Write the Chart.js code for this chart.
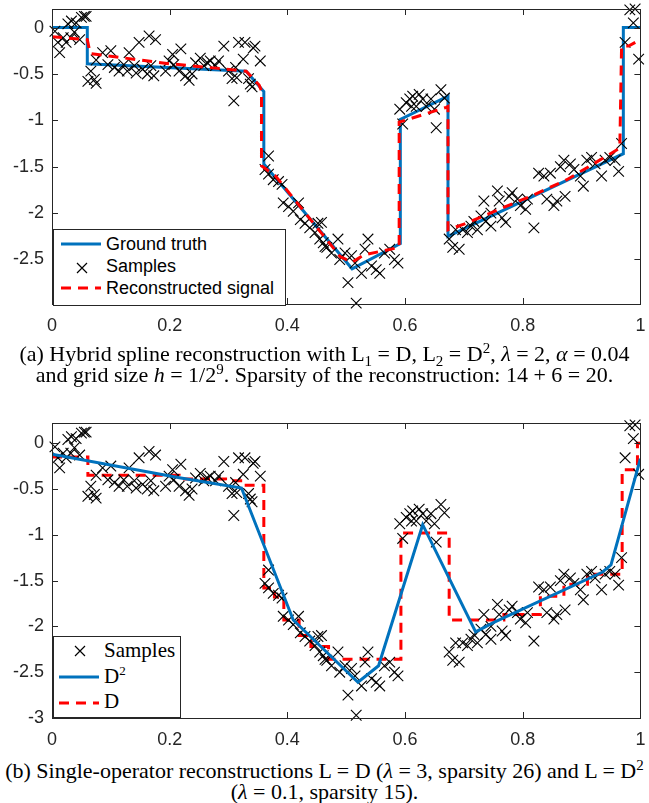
<!DOCTYPE html>
<html>
<head>
<meta charset="utf-8">
<script src="https://cdn.jsdelivr.net/npm/chart.js@4.4.1/dist/chart.umd.min.js"></script>
<style>
  body { margin: 0; background: #fff; width: 649px; height: 803px; position: relative; overflow: hidden; }
  .box { position: absolute; left: 0; width: 649px; }
  .legend { position: absolute; background: #fff; border: 1px solid #262626; color: #000; }
  .legend svg { position: absolute; }
  .legend span { position: absolute; white-space: nowrap; }
  .caption { position: absolute; left: 0; width: 649px; text-align: center; font-family: "Liberation Serif", "Times New Roman", serif; font-size: 22px; line-height: 21px; color: #000; white-space: nowrap; }
  .caption sub, .caption sup { font-size: 15px; line-height: 0; }
  i { font-style: italic; }
</style>
</head>
<body>
<div class="box" style="top:0;height:340px"><canvas id="chartA"></canvas></div>
<div class="box" style="top:400px;height:355px"><canvas id="chartB"></canvas></div>

<div class="legend" style="left:53px;top:229px;width:231px;height:75px;font-family:'Liberation Sans',Arial,sans-serif;font-size:18px">
  <svg style="left:7px;top:11px" width="40" height="6"><line x1="0" y1="3" x2="40" y2="3" stroke="#0072BD" stroke-width="3"/></svg>
  <span style="left:52px;top:4px">Ground truth</span>
  <svg style="left:22px;top:32px" width="12" height="12"><path d="M1 1L11 11M11 1L1 11" stroke="#000" stroke-width="1.2"/></svg>
  <span style="left:52px;top:26px">Samples</span>
  <svg style="left:7px;top:55px" width="40" height="6"><line x1="0" y1="3" x2="40" y2="3" stroke="#FF0000" stroke-width="3" stroke-dasharray="10 7"/></svg>
  <span style="left:52px;top:48px">Reconstructed signal</span>
</div>

<div class="legend" style="left:53px;top:636px;width:126px;height:80px;font-family:'Liberation Serif','Times New Roman',serif;font-size:21px">
  <svg style="left:20px;top:8px" width="12" height="12"><path d="M1 1L11 11M11 1L1 11" stroke="#000" stroke-width="1.2"/></svg>
  <span style="left:50px;top:1px">Samples</span>
  <svg style="left:5px;top:37px" width="40" height="6"><line x1="0" y1="3" x2="40" y2="3" stroke="#0072BD" stroke-width="3"/></svg>
  <span style="left:50px;top:26px">D<sup style="font-size:13px">2</sup></span>
  <svg style="left:5px;top:63px" width="40" height="6"><line x1="0" y1="3" x2="40" y2="3" stroke="#FF0000" stroke-width="3" stroke-dasharray="10 7"/></svg>
  <span style="left:50px;top:52px">D</span>
</div>

<div class="caption" style="top:343px">(a) Hybrid spline reconstruction with L<sub>1</sub> = D, L<sub>2</sub> = D<sup>2</sup>, <i>λ</i> = 2, <i>α</i> = 0.04<br>and grid size <i>h</i> = 1/2<sup>9</sup>. Sparsity of the reconstruction: 14 + 6 = 20.</div>
<div class="caption" style="top:760px">(b) Single-operator reconstructions L = D (<i>λ</i> = 3, sparsity 26) and L = D<sup>2</sup><br>(<i>λ</i> = 0.1, sparsity 15).</div>

<script>
// noisy samples (same in both panels)
const sampleX = [0.005, 0.010, 0.013, 0.019, 0.024, 0.027, 0.032, 0.033, 0.038, 0.041, 0.047, 0.050, 0.055, 0.058,
  0.061, 0.066, 0.072, 0.075, 0.075, 0.086, 0.095, 0.100, 0.106, 0.114, 0.122, 0.128, 0.131, 0.140, 0.143, 0.148,
  0.154, 0.162, 0.165, 0.168, 0.173, 0.176, 0.193, 0.199, 0.205, 0.207, 0.216, 0.219, 0.227, 0.233, 0.238, 0.244,
  0.252, 0.258, 0.264, 0.269, 0.278, 0.283, 0.292, 0.300, 0.306, 0.309, 0.312, 0.314, 0.317, 0.325, 0.328, 0.334,
  0.337, 0.340, 0.342, 0.345, 0.354,
  0.362, 0.368, 0.368, 0.376, 0.385, 0.391, 0.393, 0.402, 0.410, 0.419, 0.422, 0.430, 0.438, 0.447, 0.452, 0.455,
  0.458, 0.461, 0.464, 0.467, 0.475, 0.486, 0.489, 0.498, 0.503, 0.509, 0.515, 0.517, 0.526, 0.532, 0.537, 0.543,
  0.551, 0.557, 0.565, 0.574, 0.582, 0.588,
  0.591, 0.596, 0.602, 0.608, 0.611, 0.613, 0.619, 0.624, 0.630, 0.636, 0.644, 0.650, 0.653, 0.661, 0.667,
  0.675, 0.681, 0.686, 0.692, 0.698, 0.706, 0.712, 0.717, 0.723, 0.729, 0.734, 0.737, 0.746, 0.746, 0.757, 0.760,
  0.765, 0.771, 0.777, 0.782, 0.791, 0.796, 0.805, 0.808, 0.819, 0.827, 0.836, 0.841, 0.847, 0.853, 0.858, 0.864,
  0.870, 0.872, 0.881, 0.887, 0.898, 0.903, 0.909, 0.917, 0.923, 0.934, 0.940, 0.948, 0.957, 0.963, 0.968,
  0.974, 0.982, 0.988, 0.991, 0.997];
const sampleY = [-0.04, -0.16, -0.27, -0.11, -0.16, 0.04, -0.11, 0.07, -0.05, 0.05, -0.13, 0.11, 0.12, 0.12,
  -0.58, -0.47, -0.56, -0.35, -0.60, -0.27, -0.40, -0.25, -0.43, -0.47, -0.40, -0.47, -0.27, -0.41, -0.49, -0.16,
  -0.45, -0.50, -0.09, -0.41, -0.52, -0.13, -0.47, -0.36, -0.29, -0.40, -0.47, -0.23, -0.52, -0.57, -0.50, -0.38,
  -0.33, -0.41, -0.38, -0.36, -0.41, -0.36, -0.20, -0.47, -0.55, -0.79, -0.43, -0.54, -0.16, -0.34, -0.16, -0.55,
  -0.61, -0.64, -0.22, -0.20, -0.36,
  -1.53, -1.385, -1.58, -1.64, -1.66, -1.69, -1.89, -1.93, -1.98, -1.89, -2.07, -2.11, -2.16, -2.21, -2.11, -2.28,
  -2.10, -2.32, -2.36, -2.37, -2.43, -2.28, -2.50, -2.43, -2.75, -2.46, -2.54, -2.97, -2.65, -2.39, -2.28, -2.57,
  -2.61, -2.65, -2.43, -2.39, -2.50, -2.54,
  -0.88, -1.04, -0.81, -0.77, -0.85, -0.74, -0.85, -0.72, -0.77, -0.85, -0.77, -0.88, -1.08, -0.67, -0.76,
  -2.28, -2.37, -2.18, -2.39, -2.18, -2.21, -2.14, -2.09, -2.18, -2.03, -1.87, -2.09, -2.00, -2.14, -1.76, -1.87,
  -2.05, -2.10, -1.82, -1.78, -1.85, -1.92, -1.96, -1.85, -2.16, -1.57, -1.60, -1.85, -1.57, -1.92, -1.87, -1.50,
  -1.43, -1.82, -1.47, -1.53, -1.60, -1.71, -1.43, -1.40, -1.47, -1.60, -1.43, -1.40, -1.43, -1.55, -1.25,
  -0.16, 0.19, 0.05, 0.20, -0.34];

// panel (a)
const truthX = [0, 0.06, 0.06, 0.33, 0.36, 0.36, 0.51, 0.592, 0.592, 0.673, 0.673, 0.971, 0.971, 1];
const truthY = [0, 0, -0.39, -0.47, -0.69, -1.47, -2.6, -2.33, -0.99, -0.74, -2.25, -1.36, 0, 0];
const hybridX = [0, 0.06, 0.065, 0.1, 0.2, 0.33, 0.352, 0.356, 0.356, 0.38, 0.49, 0.51, 0.53, 0.59, 0.59, 0.61,
  0.67, 0.673, 0.673, 0.70, 0.82, 0.875, 0.965, 0.968, 0.98, 1];
const hybridY = [-0.1, -0.13, -0.28, -0.31, -0.39, -0.47, -0.62, -0.68, -1.49, -1.6, -2.47, -2.53, -2.45, -2.37,
  -1.02, -0.98, -0.86, -0.85, -2.18, -2.12, -1.80, -1.64, -1.30, -0.2, -0.2, -0.13];

// panel (b)
const d2X = [0, 0.219, 0.322, 0.41, 0.52, 0.555, 0.63, 0.72, 0.75, 0.935, 0.95, 1];
const d2Y = [-0.12, -0.38, -0.49, -1.93, -2.61, -2.43, -0.89, -2.06, -1.96, -1.41, -1.33, -0.17];
const dX = [0, 0.061, 0.061, 0.216, 0.216, 0.295, 0.295, 0.33, 0.33, 0.36, 0.36, 0.378, 0.378, 0.394, 0.394, 0.42,
  0.42, 0.44, 0.44, 0.47, 0.47, 0.593, 0.593, 0.675, 0.675, 0.768, 0.768, 0.83, 0.83, 0.87, 0.87, 0.91, 0.91, 0.969,
  0.969, 0.995, 0.995, 1];
const dY = [-0.15, -0.15, -0.35, -0.35, -0.39, -0.39, -0.41, -0.41, -0.46, -0.46, -1.58, -1.58, -1.68, -1.68, -1.93,
  -1.93, -2.1, -2.1, -2.22, -2.22, -2.36, -2.36, -0.98, -0.98, -1.93, -1.93, -1.87, -1.87, -1.67, -1.67, -1.54,
  -1.54, -1.43, -1.43, -0.29, -0.29, 0, 0];

const xTicks = [0, 0.2, 0.4, 0.6, 0.8, 1];
const yTicksA = [-2.5, -2, -1.5, -1, -0.5, 0];
const yTicksB = [-3, -2.5, -2, -1.5, -1, -0.5, 0];

const pts = (xs, ys) => xs.map((x, i) => ({ x: x, y: ys[i] }));
const axisColor = '#262626';
const tickFont = { family: "'Liberation Sans', Arial, sans-serif", size: 18 };

// box around the axes with inward ticks, like MATLAB
const framePlugin = {
  id: 'frame',
  afterDatasetsDraw(chart) {
    const { ctx, chartArea: a, scales } = chart;
    ctx.save();
    ctx.strokeStyle = axisColor;
    ctx.lineWidth = 1;
    ctx.beginPath();
    scales.x.ticks.forEach(t => {
      const px = Math.round(scales.x.getPixelForValue(t.value)) + 0.5;
      ctx.moveTo(px, a.bottom); ctx.lineTo(px, a.bottom - 6);
      ctx.moveTo(px, a.top); ctx.lineTo(px, a.top + 6);
    });
    scales.y.ticks.forEach(t => {
      const py = Math.round(scales.y.getPixelForValue(t.value)) + 0.5;
      ctx.moveTo(a.left, py); ctx.lineTo(a.left + 6, py);
      ctx.moveTo(a.right, py); ctx.lineTo(a.right - 6, py);
    });
    ctx.stroke();
    ctx.strokeRect(Math.round(a.left) + 0.5, Math.round(a.top) + 0.5, Math.round(a.right - a.left), Math.round(a.bottom - a.top));
    ctx.restore();
  }
};

// drop the automatic label padding so the plot box sits where the layout padding puts it
function noPad(s) {
  s.paddingTop = 0; s.paddingBottom = 0; s.paddingLeft = 0; s.paddingRight = 0;
}

function makeChart(id, lines, yMin, yMax, yTicks, top, axisH) {
  const datasets = [{
    label: 'Samples',
    data: pts(sampleX, sampleY),
    pointStyle: 'crossRot',
    pointRadius: 7.5,
    pointBorderColor: '#000',
    pointBorderWidth: 1.1,
    showLine: false,
    clip: false,
    order: 2
  }].concat(lines);

  return new Chart(document.getElementById(id), {
    type: 'scatter',
    data: { datasets: datasets },
    plugins: [framePlugin],
    options: {
      responsive: true,
      maintainAspectRatio: false,
      animation: false,
      events: [],
      layout: { padding: { left: 0, right: 5, top: top, bottom: 0 } },
      plugins: { legend: { display: false }, tooltip: { enabled: false } },
      scales: {
        x: {
          type: 'linear', min: 0, max: 1,
          grid: { display: false, drawTicks: false },
          border: { display: false },
          ticks: { color: axisColor, font: tickFont, padding: 11, maxRotation: 0, autoSkip: false, callback: v => String(v) },
          afterBuildTicks: s => { s.ticks = xTicks.map(v => ({ value: v })); },
          afterFit: s => { s.height = axisH; noPad(s); }
        },
        y: {
          type: 'linear', min: yMin, max: yMax,
          grid: { display: false, drawTicks: false },
          border: { display: false },
          ticks: { color: axisColor, font: tickFont, padding: 8, autoSkip: false, callback: v => String(v) },
          afterBuildTicks: s => { s.ticks = yTicks.map(v => ({ value: v })); },
          afterFit: s => { s.width = 52; noPad(s); }
        }
      }
    }
  });
}

makeChart('chartA', [
  { label: 'Ground truth', data: pts(truthX, truthY), showLine: true, borderColor: '#0072BD', borderWidth: 3, pointRadius: 0, order: 3 },
  { label: 'Reconstructed signal', data: pts(hybridX, hybridY), showLine: true, borderColor: '#FF0000', borderWidth: 3, borderDash: [10, 7], pointRadius: 0, order: 1 }
], -2.98, 0.2, yTicksA, 9, 36);

makeChart('chartB', [
  { label: 'D^2', data: pts(d2X, d2Y), showLine: true, borderColor: '#0072BD', borderWidth: 3, pointRadius: 0, order: 1 },
  { label: 'D', data: pts(dX, dY), showLine: true, borderColor: '#FF0000', borderWidth: 3, borderDash: [10, 7], pointRadius: 0, order: 3 }
], -3, 0.22, yTicksB, 23, 37);
</script>
</body>
</html>
